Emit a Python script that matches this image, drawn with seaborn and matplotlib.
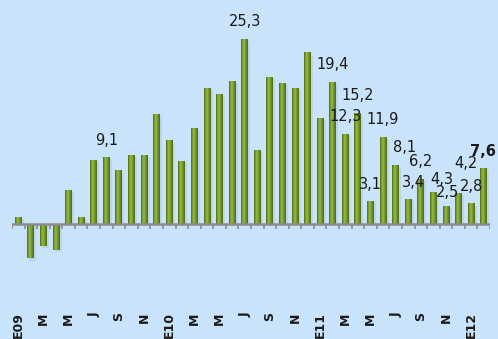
import numpy as np
import pandas as pd
import seaborn as sns
import matplotlib.pyplot as plt
from matplotlib.colors import LinearSegmentedColormap
import matplotlib.patheffects as pe

# Variación interanual mensual, enero 2009 - febrero 2012
meses = [
    "2009-01", "2009-02", "2009-03", "2009-04", "2009-05", "2009-06",
    "2009-07", "2009-08", "2009-09", "2009-10", "2009-11", "2009-12",
    "2010-01", "2010-02", "2010-03", "2010-04", "2010-05", "2010-06",
    "2010-07", "2010-08", "2010-09", "2010-10", "2010-11", "2010-12",
    "2011-01", "2011-02", "2011-03", "2011-04", "2011-05", "2011-06",
    "2011-07", "2011-08", "2011-09", "2011-10", "2011-11", "2011-12",
    "2012-01", "2012-02",
]
valores = [
    0.9, -4.7, -3.0, -3.6, 4.6, 0.9, 8.7, 9.1, 7.3, 9.4, 9.4, 15.0,
    11.4, 8.6, 13.1, 18.5, 17.8, 19.5, 25.3, 10.1, 20.1, 19.2, 18.5, 23.4,
    14.4, 19.4, 12.3, 15.2, 3.1, 11.9, 8.1, 3.4, 6.2, 4.3, 2.5, 4.2,
    2.8, 7.6,
]
etiquetas_eje = [
    "E09", "", "M", "", "M", "", "J", "", "S", "", "N", "",
    "E10", "", "M", "", "M", "", "J", "", "S", "", "N", "",
    "E11", "", "M", "", "M", "", "J", "", "S", "", "N", "",
    "E12", "",
]
# Meses con el valor rotulado
rotulados = [7, 18, 25, 26, 27, 28, 29, 30, 31, 32, 33, 34, 35, 36, 37]
# Ajustes de posición de algunos rótulos (píxeles)
desplaz_x = {30: 9, 31: 5, 33: 8, 34: 2, 35: 7, 37: -1}
desplaz_y = {33: 13, 34: 13, 35: 30}

fondo = "#c9e3fb"
df = pd.DataFrame({"mes": meses, "valor": valores})

fig = plt.figure(figsize=(4.98, 3.39), dpi=100, facecolor=fondo)
ax = fig.add_axes([12 / 498, 31 / 339, 478 / 498, 308 / 339])
ax.set_facecolor(fondo)

sns.barplot(data=df, x="mes", y="valor", order=meses, color="#6f9428",
            width=0.55, saturation=1, ax=ax, zorder=2)

# Relleno cilíndrico de las barras
verde = LinearSegmentedColormap.from_list(
    "verde", [(0, "#4a6416"), (0.35, "#97c142"), (0.6, "#7ea333"), (1, "#4a6416")])
grad = np.linspace(0, 1, 64).reshape(1, -1)
for p in ax.patches:
    p.set_path_effects([pe.SimplePatchShadow(offset=(1.5, -1.5), shadow_rgbFace="#8a9aab",
                                             alpha=0.2), pe.Normal()])
    x0, y0 = p.get_x(), p.get_y()
    x1, y1 = x0 + p.get_width(), y0 + p.get_height()
    im = ax.imshow(grad, extent=[x0, x1, min(y0, y1), max(y0, y1)],
                   aspect="auto", cmap=verde, zorder=2.1, interpolation="bicubic")
    im.set_clip_path(p)

# Eje en el cero con marcas entre meses
n = len(meses)
ax.axhline(0, color="#8c8c8c", lw=1.8, zorder=3)
ax.vlines(np.arange(n + 1) - 0.5, -0.75, 0, color="#8c8c8c", lw=1.2, zorder=3)

for i in rotulados:
    v = valores[i]
    txt = f"{v:.1f}".replace(".", ",")
    ax.annotate(txt, (i, v), xytext=(desplaz_x.get(i, 0), desplaz_y.get(i, 17)),
                textcoords="offset pixels", ha="center", va="center",
                fontsize=10.5, color="#1a1a1a",
                fontweight="bold" if i == n - 1 else "normal", zorder=4,
                annotation_clip=False)

ax.set_xlim(-0.5, n - 0.5)
ax.set_ylim(-11.46, 30.56)
ax.set_xticks(range(n))
ax.set_xticklabels(etiquetas_eje, rotation=90, fontsize=9, fontweight="bold",
                   color="#1a1a1a", va="top")
ax.tick_params(axis="x", length=0, pad=3)
ax.set_yticks([])
ax.set_xlabel("")
ax.set_ylabel("")
for s in ax.spines.values():
    s.set_visible(False)

fig.savefig("out.png", dpi=100, facecolor=fondo)
